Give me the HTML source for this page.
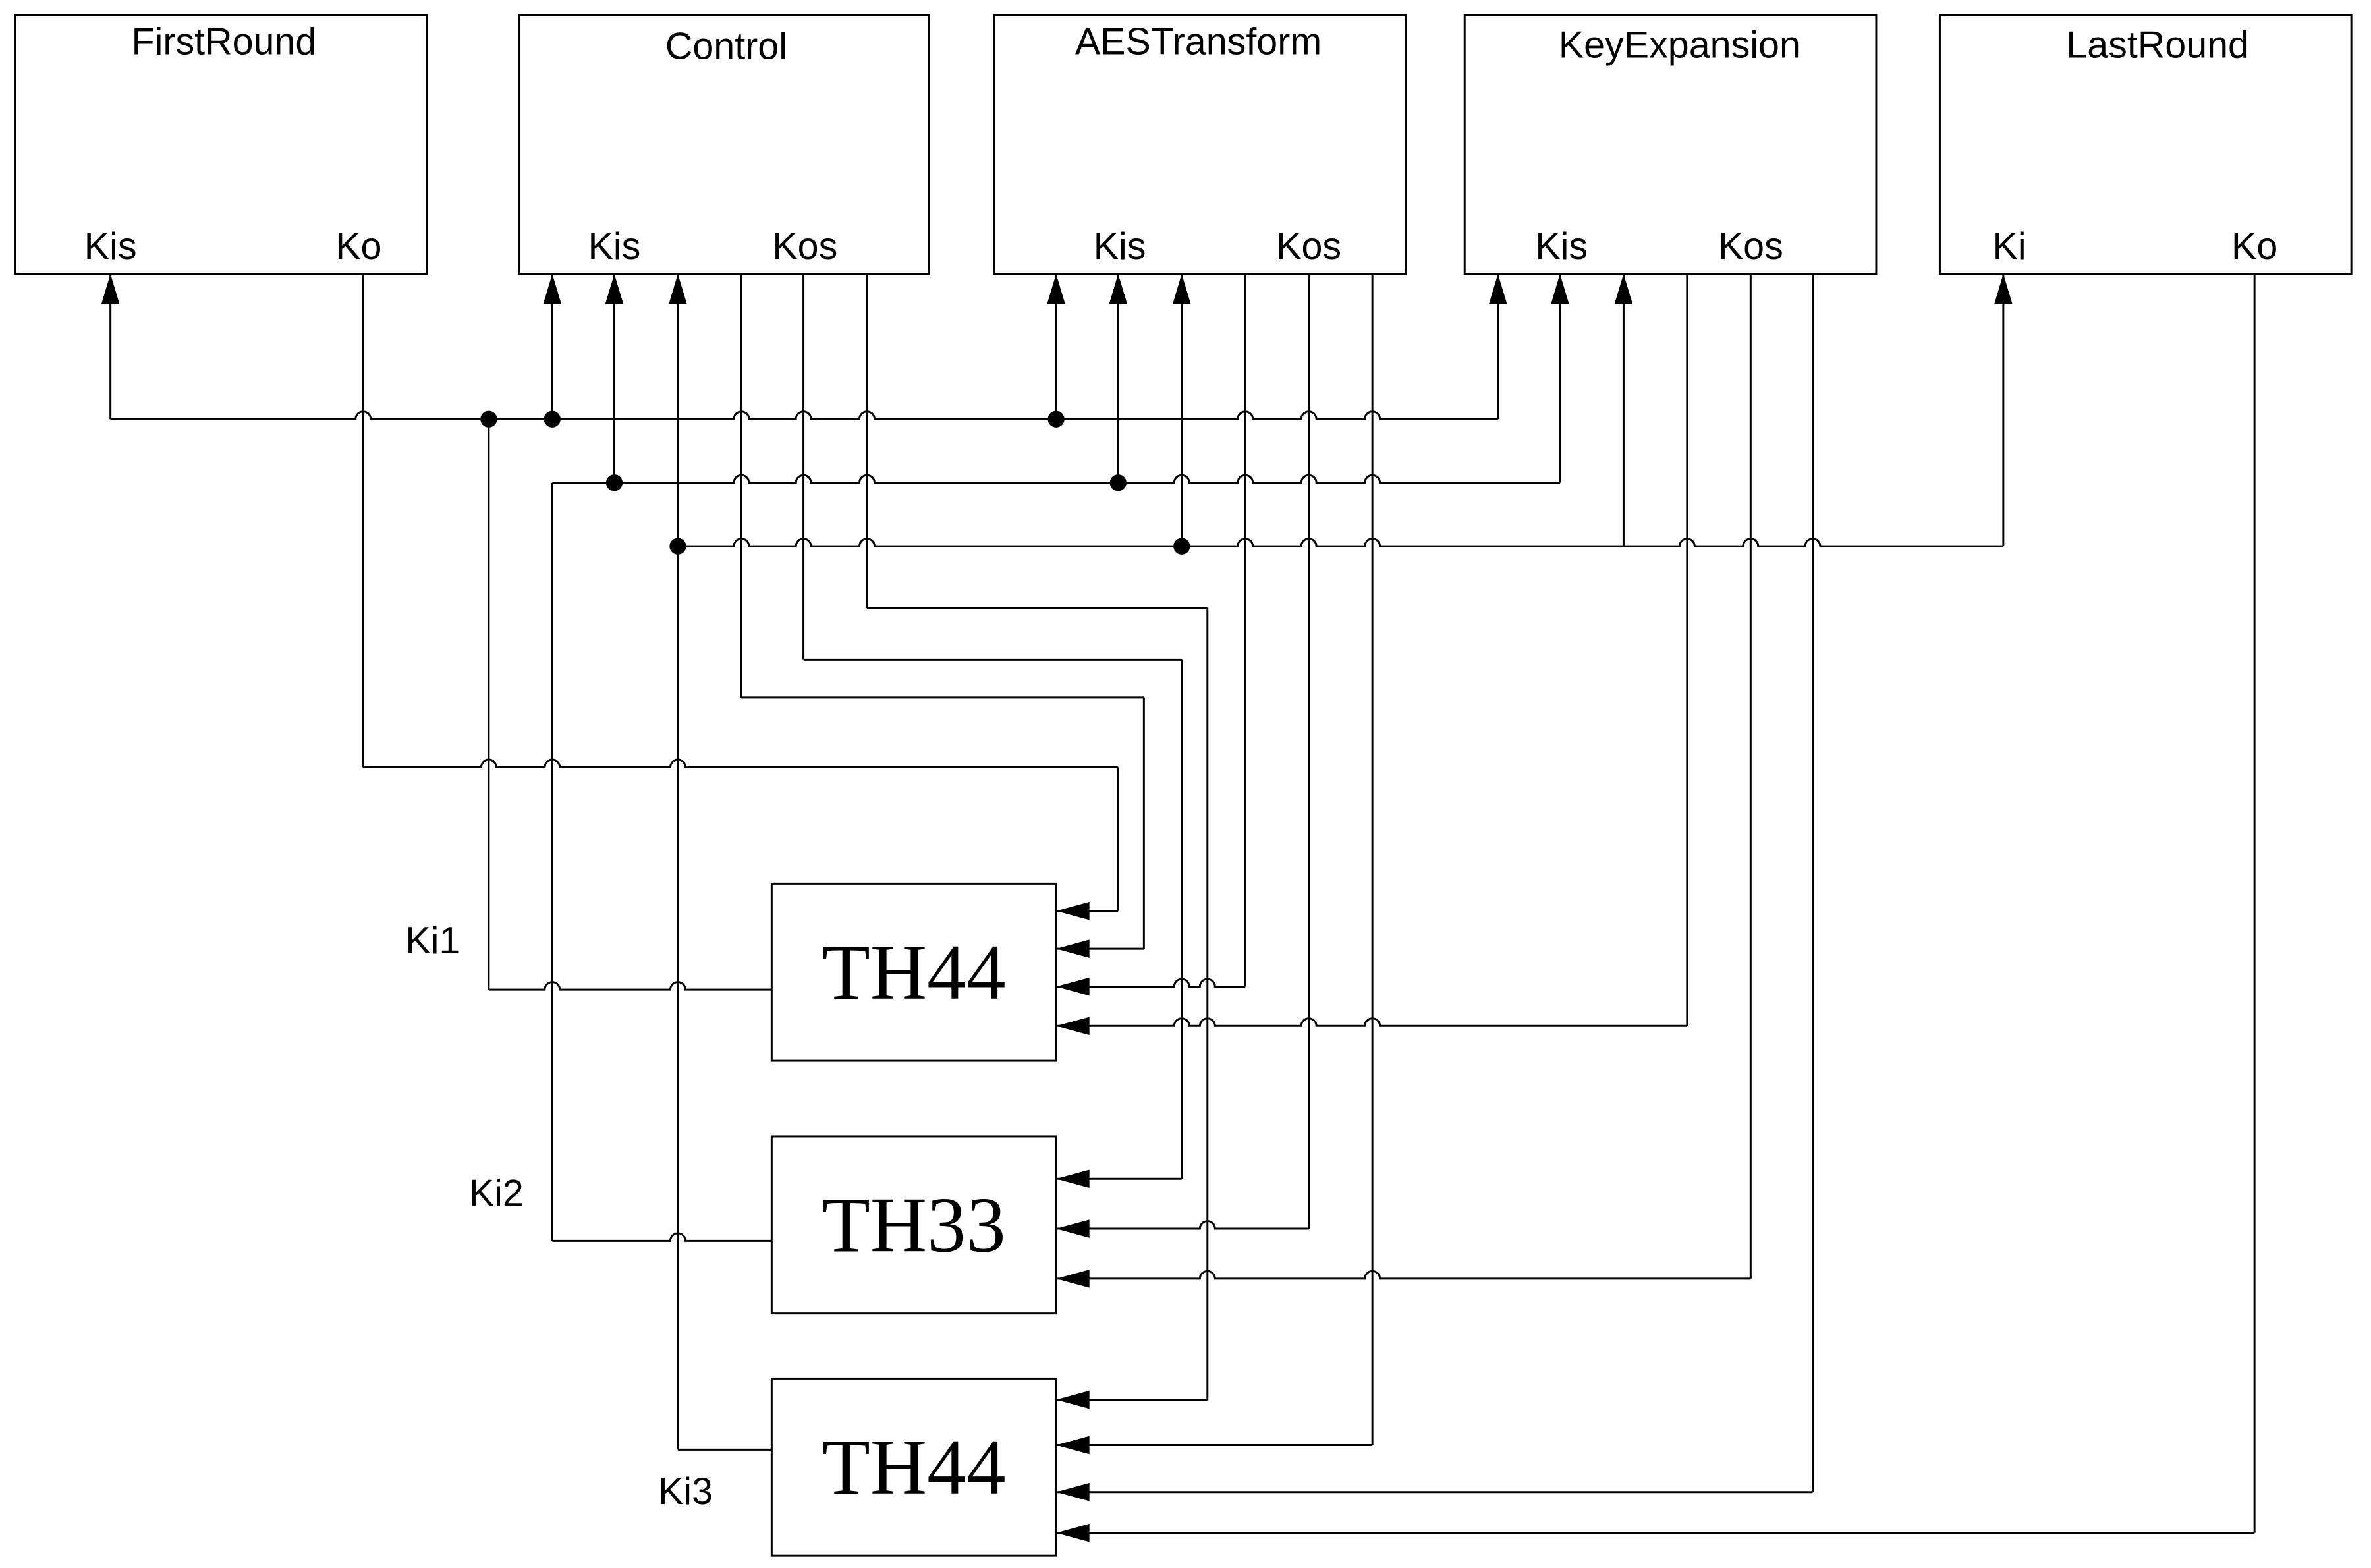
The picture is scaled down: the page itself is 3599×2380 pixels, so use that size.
<!DOCTYPE html>
<html><head><meta charset="utf-8"><style>
html,body{margin:0;padding:0;background:#fff;}
svg{display:block}
text{font-family:"Liberation Sans",sans-serif;fill:#000}
.t{font-size:25px}
.th{font-family:"Liberation Serif",serif;font-size:52px}
</style></head><body>
<svg id="s" width="3599" height="2380" viewBox="0 0 1567 1036.2" preserveAspectRatio="none" xmlns="http://www.w3.org/2000/svg">
<g fill="none" stroke="#000" stroke-width="1.3" id="g">
<rect x="10" y="10" width="272" height="171"/>
<rect x="343" y="10" width="271" height="171"/>
<rect x="657" y="10" width="272" height="171"/>
<rect x="968" y="10" width="272" height="171"/>
<rect x="1282" y="10" width="272" height="171"/>
<rect x="510" y="584" width="188" height="117"/>
<rect x="510" y="751" width="188" height="117"/>
<rect x="510" y="911" width="188" height="117"/>
</g>
<g id="a" fill="#000"></g>
<text class="t" x="148" y="36" text-anchor="middle">FirstRound</text>
<text class="t" x="480" y="39" text-anchor="middle">Control</text>
<text class="t" x="792" y="36" text-anchor="middle">AESTransform</text>
<text class="t" x="1110" y="38" text-anchor="middle">KeyExpansion</text>
<text class="t" x="1426" y="38" text-anchor="middle">LastRound</text>
<text class="t" x="73" y="171" text-anchor="middle">Kis</text>
<text class="t" x="237" y="171" text-anchor="middle">Ko</text>
<text class="t" x="406" y="171" text-anchor="middle">Kis</text>
<text class="t" x="532" y="171" text-anchor="middle">Kos</text>
<text class="t" x="740" y="171" text-anchor="middle">Kis</text>
<text class="t" x="865" y="171" text-anchor="middle">Kos</text>
<text class="t" x="1032" y="171" text-anchor="middle">Kis</text>
<text class="t" x="1157" y="171" text-anchor="middle">Kos</text>
<text class="t" x="1328" y="171" text-anchor="middle">Ki</text>
<text class="t" x="1490" y="171" text-anchor="middle">Ko</text>
<text class="t" x="286" y="630" text-anchor="middle">Ki1</text>
<text class="t" x="328" y="797" text-anchor="middle">Ki2</text>
<text class="t" x="453" y="994" text-anchor="middle">Ki3</text>
<text class="th" x="604" y="660" text-anchor="middle">TH44</text>
<text class="th" x="604" y="827" text-anchor="middle">TH33</text>
<text class="th" x="604" y="987" text-anchor="middle">TH44</text>
</svg>
<script>
var g=document.getElementById('g'),a=document.getElementById('a'),NS='http://www.w3.org/2000/svg';
function p(d){var e=document.createElementNS(NS,'path');e.setAttribute('d',d);g.appendChild(e);}
function pa(d){var e=document.createElementNS(NS,'path');e.setAttribute('d',d);a.appendChild(e);}
function V(x,y1,y2){p('M'+x+' '+y1+'V'+y2);}
function H(y,x1,x2,hops){hops=(hops||[]).slice().sort(function(a,b){return a-b});var lo=Math.min(x1,x2),hi=Math.max(x1,x2);var d='M'+lo+' '+y;hops.forEach(function(h){d+='H'+(h-5)+'A5 5 0 0 1 '+(h+5)+' '+y;});d+='H'+hi;p(d);}
function up(x){pa('M'+x+' 181L'+(x-6)+' 201L'+(x+6)+' 201Z');}
function left(y){pa('M698 '+y+'L720 '+(y-6)+'L720 '+(y+6)+'Z');}
function dot(x,y){var c=document.createElementNS(NS,'circle');c.setAttribute('cx',x);c.setAttribute('cy',y);c.setAttribute('r',5.5);a.appendChild(c);}
H(277,73,990,[240,490,531,573,823,865,907]);V(73,181,277);up(73);V(990,181,277);up(990);
V(365,181,277);up(365);dot(365,277);V(698,181,277);up(698);dot(698,277);dot(323,277);
V(323,277,654);H(654,323,510,[365,448]);
H(319,365,1031,[490,531,573,781,823,865,907]);V(1031,181,319);up(1031);
V(406,181,319);up(406);dot(406,319);V(739,181,319);up(739);dot(739,319);
V(365,319,820);H(820,365,510,[448]);
H(361,448,1324,[490,531,573,823,865,907,1115,1157,1198]);V(1324,181,361);up(1324);
V(448,181,361);up(448);dot(448,361);V(781,181,361);up(781);dot(781,361);
V(1073,181,361);up(1073);
V(448,361,958);H(958,448,510,[]);
V(573,181,402);H(402,573,798);V(798,402,925);H(925,798,698);left(925);
V(531,181,436);H(436,531,781);V(781,436,779);H(779,781,698);left(779);
V(490,181,461);H(461,490,756);V(756,461,627);H(627,756,698);left(627);
V(240,181,507);H(507,240,739,[323,365,448]);V(739,507,602);H(602,739,698);left(602);
V(823,181,652);H(652,823,698,[781,798]);left(652);
V(865,181,812);H(812,865,698,[798]);left(812);
V(907,181,955);H(955,907,698);left(955);
V(1115,181,678);H(678,1115,698,[781,798,865,907]);left(678);
V(1157,181,845);H(845,1157,698,[798,907]);left(845);
V(1198,181,986);H(986,1198,698);left(986);
V(1490,181,1013);H(1013,1490,698);left(1013);
</script>
</body></html>
